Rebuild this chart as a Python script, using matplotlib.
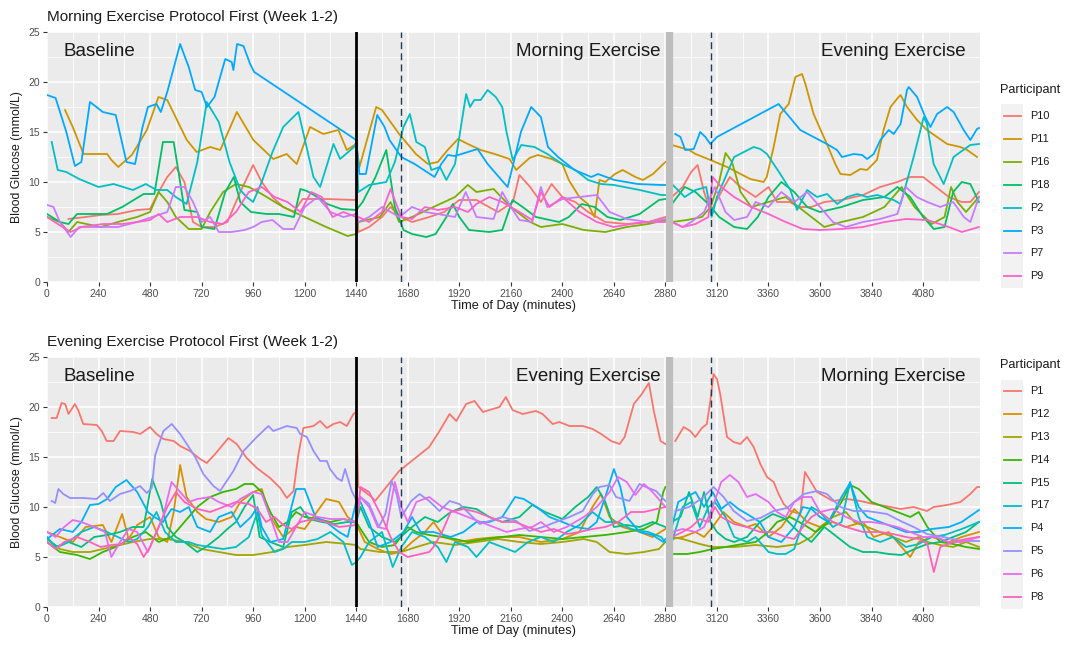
import numpy as np
import matplotlib
matplotlib.use("Agg")
import matplotlib.pyplot as plt
from matplotlib.lines import Line2D

plt.rcParams['font.family'] = ['Liberation Sans', 'DejaVu Sans']

# ---------------- data: (minute, glucose) ----------------
# Panel 1: Morning Exercise Protocol First
P10 = [(100,6.3),(180,6.5),(250,6.7),(330,6.8),(420,7.2),(480,7.3),(520,9),(560,10.5),(600,11.5),(640,10),(680,6),(720,5.5),(780,5.5),(840,6),(900,9),(960,11.7),(1000,10),(1050,8.5),(1100,7.5),(1150,7),(1190,8.3),(1300,8.3),(1440,8.2),
       (1450,5),(1500,5.5),(1560,6.5),(1600,7.5),(1650,6.5),(1700,6),(1780,6.5),(1850,7),(1920,8.2),(2000,8.2),(2100,7),(2170,8),(2200,10.7),(2250,9.5),(2300,8),(2350,9.8),(2400,8.5),(2460,8),(2520,7),(2600,6),(2700,5.8),(2800,6),(2880,6.5),
       (2910,8.5),(2960,9.5),(3000,11),(3030,11.7),(3060,9),(3090,7),(3140,9),(3180,10.5),(3230,9.5),(3300,8.5),(3360,9.5),(3400,8),(3460,8),(3500,7.5),(3560,7.5),(3620,8),(3700,8.2),(3800,8.7),(3880,9.5),(3960,10),(4020,10.5),(4080,10.5),(4140,9.5),(4200,8.5),(4260,8),(4300,8),(4340,9)]
P11 = [(84,17.2),(120,15.5),(170,12.8),(280,12.8),(300,12.2),(332,11.5),(395,12.7),(465,15.2),(519,18.5),(560,18.2),(651,14.2),(697,13),(760,13.5),(807,13.2),(884,17),(961,14.2),(1054,12.3),(1116,12.8),(1163,11.8),(1225,15.5),(1287,14.8),(1357,15.2),(1396,13.2),(1440,13.8),
       (1455,11.5),(1533,17.5),(1560,17.2),(1640,14.8),(1718,12.8),(1774,11.8),(1820,12),(1866,13.2),(1914,14.3),(1960,13.8),(2020,13.2),(2085,12.8),(2154,12.3),(2185,11.2),(2247,12.4),(2286,12.7),(2350,12.3),(2400,11.8),(2430,10.2),(2479,8.5),(2519,7.8),(2550,6.5),(2573,10.2),(2600,10),(2645,10.8),(2681,11.2),(2740,10.5),(2775,10.2),(2822,10.8),(2870,11.8),(2880,12),
       (2910,13.7),(2990,13.2),(3020,12.8),(3090,12.2),(3167,11.5),(3230,10.8),(3275,10.3),(3337,10),(3352,10.5),(3384,13.5),(3415,16.8),(3454,17.8),(3485,20.5),(3516,20.8),(3532,19.8),(3570,16.8),(3632,13.8),(3671,11.8),(3695,10.8),(3741,10.7),(3788,11.3),(3819,11.2),(3865,12.2),(3896,15.2),(3928,17.5),(3966,18.5),(3975,18.7),(4005,17.5),(4052,16.2),(4098,15.2),(4145,14.5),(4192,13.8),(4254,13.5),(4285,13.2),(4331,12.5)]
P16 = [(0,6.5),(60,6),(100,5),(140,6),(250,5.5),(330,6),(420,6.5),(480,7),(520,9),(560,8),(600,6.5),(660,5.3),(720,5.3),(760,7),(820,9),(880,9.8),(940,9.5),(1000,8.8),(1100,7.5),(1200,6.5),(1300,5.5),(1400,4.6),(1440,4.8),
       (1450,6),(1550,6.5),(1600,8),(1640,6),(1700,6.5),(1800,7.5),(1900,8.5),(1960,9.7),(2000,9),(2080,9.3),(2160,7.5),(2250,6),(2300,5.5),(2400,5.8),(2500,5.2),(2600,5),(2700,5.5),(2800,5.8),(2880,6.2),
       (2910,6),(2980,6.2),(3050,6.5),(3090,7.5),(3130,10),(3160,12.9),(3190,12),(3230,9),(3280,7.5),(3360,8),(3440,8.5),(3500,7.5),(3560,6.5),(3620,5.5),(3700,6),(3800,6.5),(3900,7.5),(3980,9.5),(4040,7.5),(4120,5.8),(4180,6.5),(4210,9.5),(4240,8),(4280,7),(4340,8.5)]
P18 = [(0,6.8),(60,6),(100,5.8),(140,6.8),(280,6.8),(350,7.5),(450,8.8),(500,8.8),(540,14),(590,14),(620,10),(640,7.2),(700,7),(720,5.5),(780,5.3),(830,9),(870,10.5),(900,8),(950,7),(1023,6.8),(1080,6.8),(1150,6.5),(1180,9.3),(1210,9.1),(1260,8.5),(1305,7.8),(1370,7.3),(1440,7.2),
       (1470,8),(1530,10.5),(1580,13.2),(1620,7.5),(1660,5.2),(1700,4.8),(1766,4.5),(1810,4.8),(1860,6.5),(1890,7.8),(1920,6.5),(1965,5.2),(2060,5),(2120,5.2),(2168,8.2),(2215,7.5),(2277,6.5),(2340,6.2),(2385,6),(2430,6.5),(2490,7.8),(2550,7.5),(2610,6.5),(2670,6.2),(2760,6.8),(2850,8.2),(2880,8.3),
       (2910,7.8),(2970,9.5),(3020,9),(3080,7.8),(3130,6.5),(3200,5.5),(3260,5.3),(3310,6.5),(3360,8.5),(3420,10),(3480,9),(3540,7.5),(3600,7),(3700,7.5),(3800,8.2),(3900,8.5),(3960,9.5),(4020,8.5),(4080,6.5),(4130,5.3),(4180,5.5),(4220,9),(4260,10),(4300,9.8),(4340,8)]
P2 = [(22,14),(50,11.2),(90,11),(150,10.3),(240,9.5),(310,9.8),(400,9.2),(460,9.8),(510,9.2),(560,9.2),(600,8.5),(650,7.8),(700,12),(744,18),(800,16),(850,12),(900,9.2),(930,8.5),(960,8),(1000,10),(1050,13),(1100,15.5),(1171,17),(1241,10.5),(1272,9.5),(1334,13.8),(1365,12.3),(1430,13.5),(1440,14),
      (1450,9),(1500,9.7),(1580,10),(1620,12),(1660,15.5),(1690,16.8),(1720,14),(1760,13.5),(1790,11.2),(1830,11.5),(1860,10.2),(1900,11.8),(1952,18.8),(1970,17.5),(1990,18.2),(2020,18.2),(2052,19.2),(2090,18.5),(2120,17.5),(2140,15),(2169,12.2),(2209,13.7),(2270,13.5),(2330,12.8),(2400,11.8),(2460,11.2),(2520,10.2),(2580,9.8),(2640,9.7),(2760,9.2),(2860,8.7),(2880,8.7),
      (2910,9.8),(2970,8.5),(3020,9.2),(3070,9.5),(3095,6.5),(3120,8.5),(3200,12.5),(3291,13.5),(3322,13.3),(3353,12.8),(3415,10.8),(3462,9.2),(3493,7.2),(3540,9.2),(3586,8.5),(3633,8.8),(3680,7.8),(3726,8.5),(3773,8.8),(3820,8.5),(3866,8.7),(3943,8.2),(3975,7.8),(4036,12.5),(4083,16.5),(4098,15.8),(4129,11.8),(4176,9.8),(4222,12.5),(4254,13),(4300,13.7),(4340,13.8)]
P3 = [(0,18.7),(40,18.4),(90,15),(130,11.6),(160,12),(200,18),(260,17),(320,16.7),(370,12),(410,11.8),(445,15.5),(470,17.5),(510,17.8),(530,17),(560,19),(620,23.8),(660,21.5),(690,19.2),(720,19),(745,17.5),(780,18.5),(830,22.3),(860,22),(868,21.2),(885,23.8),(915,23.6),(946,21.8),(965,21),(1440,14.2),
      (1455,10.8),(1485,10.8),(1538,16.7),(1572,15.5),(1595,14.2),(1650,12.5),(1712,11.8),(1805,10.5),(1836,11.8),(1867,12.7),(1898,12.6),(1930,12.8),(2005,13.3),(2052,11.8),(2145,9.5),(2176,12.2),(2207,15),(2255,17.5),(2300,16.5),(2333,13.5),(2380,12.5),(2457,11.2),(2535,10.5),(2566,10.8),(2643,10.2),(2751,9.8),(2860,9.7),(2880,9.7),
      (2926,14.8),(2950,14.5),(2972,13.2),(3012,13.3),(3042,15),(3066,14.5),(3089,13.8),(3120,14.5),(3407,17.8),(3508,15.2),(3570,14.5),(3632,13.8),(3679,13.2),(3702,12.5),(3757,12.8),(3796,12.7),(3819,12.3),(3850,12.8),(3881,14.2),(3920,15.2),(3943,14.8),(3975,15.8),(4005,19.2),(4013,19.5),(4052,18.5),(4090,16.5),(4114,15.5),(4145,16.8),(4192,17.5),(4222,17),(4269,15.2),(4300,14.2),(4331,15.3),(4340,15.4)]
P7 = [(0,7.7),(30,7.5),(60,6),(110,4.5),(150,5.5),(250,5.5),(330,5.5),(420,6),(490,6.5),(560,7),(600,9.5),(640,9.5),(680,8),(720,6),(760,6.5),(800,5),(860,5),(920,5.2),(960,5.5),(1000,6),(1050,6.2),(1100,5.3),(1150,5.3),(1200,7.5),(1260,8.5),(1320,7),(1380,6.5),(1440,6.8),
      (1450,6),(1500,6.5),(1560,7.5),(1640,6.5),(1700,7.5),(1760,7),(1820,6.8),(1900,6.5),(1950,9),(2000,6.5),(2080,6.3),(2120,9),(2160,7.5),(2200,6.2),(2260,6),(2300,9.5),(2330,7.5),(2400,8.3),(2480,8.5),(2560,8.7),(2620,7),(2700,6.3),(2800,6),(2880,6.3),
      (2910,6),(2960,5.5),(3000,6),(3060,7),(3090,8.5),(3110,9.5),(3160,7),(3200,6.2),(3260,6.5),(3300,8),(3360,7.5),(3420,9),(3480,8),(3540,9),(3600,7.5),(3660,6),(3720,5.5),(3800,6),(3880,6.3),(3960,6.8),(4000,9.5),(4050,8.5),(4100,8),(4160,7.5),(4220,8),(4270,6.5),(4300,6),(4340,8.5)]
P9 = [(0,6.5),(50,5.8),(110,5),(160,5.5),(260,5.8),(350,5.8),(420,6),(480,6.2),(520,6.8),(560,6),(620,6.5),(700,6.5),(760,6),(820,5.8),(880,7),(940,9),(1000,9.5),(1060,8.5),(1120,8),(1180,7),(1230,9),(1280,8.5),(1330,6.5),(1380,7),(1440,6.5),
      (1450,6.5),(1500,6),(1560,7),(1600,9.3),(1650,6.5),(1700,6.3),(1760,7.5),(1820,7.2),(1900,7.5),(1960,7),(2000,7.8),(2060,8.5),(2120,8),(2200,7),(2260,6.2),(2300,9),(2340,7.5),(2400,8.5),(2480,7),(2560,6),(2640,5.5),(2720,5.8),(2800,6),(2880,6),
      (2910,6),(2960,5.5),(3020,5.8),(3080,6.5),(3100,10.5),(3140,9.5),(3200,8.5),(3280,7.5),(3360,6.8),(3440,6),(3520,5.3),(3600,5.2),(3700,5.3),(3800,5.5),(3900,6),(4000,6.3),(4100,6.2),(4200,5.5),(4260,5),(4340,5.5)]

# Panel 2: Evening Exercise Protocol First
P1 = [(22,18.9),(45,18.9),(68,20.4),(85,20.3),(100,19.3),(130,20.3),(145,19.7),(169,18.3),(232,18.2),(255,17.6),(278,16.6),(310,16.6),(340,17.6),(402,17.5),(434,17.3),(480,18),(510,17.3),(542,16.8),(590,16.6),(620,16.1),(666,15.6),(713,14.8),(744,14.4),(783,15.3),(845,16.9),(883,16.3),(930,14.9),(977,13.9),(1039,12.9),(1086,11.9),(1117,10.9),(1148,11.6),(1171,15.3),(1194,17.9),(1241,18.1),(1272,18.6),(1303,17.9),(1334,18.3),(1365,18.5),(1396,18.1),(1427,19.3),(1440,19.5),
      (1450,12),(1512,11),(1528,10.6),(1640,13.6),(1780,16),(1828,17.6),(1875,19.3),(1906,18.6),(1952,20.3),(1991,20.6),(2030,19.5),(2076,19.8),(2107,20),(2137,21),(2168,19.7),(2215,19.3),(2277,19.6),(2308,19.3),(2355,18.3),(2386,18.5),(2433,18.1),(2495,18.1),(2541,17.8),(2581,17.3),(2627,16.6),(2667,16.3),(2690,17),(2733,20.3),(2770,21.3),(2803,22.4),(2826,19.6),(2857,16.6),(2880,16.3),
      (2926,16.6),(2965,18),(2996,17.6),(3019,17),(3050,17.9),(3073,18.3),(3089,20.6),(3104,23.3),(3120,22.8),(3135,21.3),(3167,17),(3198,16.5),(3229,16.3),(3260,17),(3291,16),(3322,14.3),(3353,13),(3384,12.5),(3407,11.3),(3431,10.3),(3462,9.6),(3508,9.3),(3530,13.5),(3586,11.5),(3660,10.6),(3725,10.8),(3788,10.6),(3850,10.3),(3928,10),(3975,9.8),(4036,10),(4098,9.6),(4129,10),(4192,10.2),(4254,10.5),(4300,11.3),(4331,12),(4345,12)]
P12 = [(0,7.5),(60,7),(120,6.5),(180,8),(260,8.2),(300,6.5),(350,9.3),(380,6.8),(420,8.2),(480,9),(520,7),(560,6.5),(590,9.5),(620,14.2),(650,11),(700,9.5),(740,8.8),(800,8.5),(860,9),(900,10.5),(960,11.5),(1000,11.8),(1040,9),(1100,7),(1160,8),(1200,7.8),(1240,9),(1300,10.8),(1360,10.5),(1400,9),(1440,8.3),
       (1480,6.5),(1540,5.8),(1600,5.3),(1650,5.5),(1700,6.5),(1760,7.5),(1800,8.5),(1850,7),(1920,6.5),(2000,6.8),(2100,7),(2200,7),(2300,6.5),(2400,6.8),(2480,7.5),(2540,10),(2580,11.3),(2620,9),(2680,8),(2760,7.5),(2820,7),(2880,7.8),
       (2910,6.8),(2960,7),(3020,7.5),(3060,7),(3100,8),(3150,9.5),(3200,8.5),(3260,8),(3300,8.3),(3360,7),(3420,8),(3480,9.8),(3540,8.5),(3600,8),(3660,8.5),(3720,8),(3800,8.5),(3850,7),(3920,7.5),(3980,6),(4020,5),(4060,6.5),(4120,7),(4200,6.5),(4260,7),(4340,7.5)]
P13 = [(0,6.8),(60,5.8),(120,5.5),(200,5.5),(300,6),(400,6.5),(480,6.8),(560,6.8),(640,6.5),(720,5.8),(800,5.5),(880,5.2),(960,5.2),(1050,5.5),(1120,6),(1200,6.2),(1300,6.5),(1400,6.3),(1440,6.2),
       (1460,5.8),(1550,5.5),(1650,5.5),(1720,6),(1800,6.5),(1900,6.2),(2000,6.5),(2100,6.8),(2200,6.5),(2300,6.3),(2400,6.5),(2500,6.8),(2560,6.5),(2620,5.5),(2700,5.3),(2780,5.5),(2850,5.8),(2880,6.5),
       (2910,7),(2960,6.8),(3040,6.3),(3100,6),(3200,6),(3300,6.2),(3400,6),(3500,6.3),(3560,7),(3600,8),(3660,9),(3720,9.5),(3760,8.5),(3820,8),(3880,7.5),(3940,7),(4000,6.5),(4060,7),(4100,6.5),(4160,6.2),(4220,6),(4280,6.5),(4340,6)]
P14 = [(0,6.5),(60,5.5),(140,5.2),(200,4.8),(260,5.5),(320,6),(400,7),(460,7.5),(520,6.5),(580,7),(640,8.5),(700,10),(760,11),(820,11.5),(880,11.8),(920,12.3),(960,12.3),(1000,11.5),(1040,9.5),(1080,8),(1120,8.5),(1160,9.5),(1200,9),(1260,8.8),(1320,8.5),(1380,8.8),(1440,8.5),
       (1460,7.8),(1500,6.5),(1560,6),(1620,6.2),(1680,8),(1720,7.5),(1780,7.2),(1840,7),(1900,6.8),(1960,6.5),(2040,6.8),(2120,7),(2200,7.2),(2300,7),(2400,6.8),(2500,7),(2600,7.2),(2700,7.5),(2780,7.8),(2840,8.5),(2870,11.5),(2880,12),
       (2920,5.3),(2980,5.3),(3040,5.5),(3100,5.8),(3160,6),(3240,6.3),(3300,6.5),(3360,7.5),(3400,8.5),(3460,9),(3520,8.3),(3580,7.5),(3640,8.5),(3700,10.5),(3740,12.2),(3780,11.8),(3840,10.5),(3900,10),(3960,9.5),(4020,9),(4060,9.5),(4100,8),(4160,6.5),(4220,6.3),(4280,6),(4340,5.8)]
P15 = [(0,6.8),(50,6),(100,6.5),(160,6),(220,7),(280,7.2),(340,7.5),(400,8),(450,8),(490,12.8),(530,10.5),(560,8),(600,7),(640,6.5),(700,5.5),(740,6),(800,7),(840,7.8),(880,8.5),(920,10),(960,11.2),(990,7),(1040,6.5),(1100,6),(1140,9.5),(1180,10),(1220,8.8),(1280,8.5),(1340,8.3),(1400,8.5),(1440,8.5),
       (1460,10),(1500,8),(1560,7),(1620,6.5),(1700,8),(1760,9),(1820,8.5),(1880,9.5),(1940,10),(2000,9.8),(2060,9),(2120,8.5),(2200,9),(2260,10.2),(2320,9.5),(2400,8.8),(2460,10),(2520,11),(2560,12),(2600,10.5),(2640,8),(2700,8.2),(2760,8),(2820,8.5),(2880,8),
       (2910,8.5),(2950,9),(2990,11.5),(3030,9),(3060,11.5),(3090,8.5),(3120,7.5),(3160,6.8),(3200,6.5),(3260,7),(3320,8.5),(3380,9.3),(3440,8.8),(3500,7.5),(3560,6.5),(3620,8),(3680,7),(3740,6),(3800,5.5),(3860,5.5),(3920,5.3),(3980,5.2),(4040,5.8),(4100,6.3),(4160,6.5),(4220,7),(4280,7.5),(4340,8.5)]
P17 = [(0,7),(40,6),(100,6.5),(160,7.5),(220,8),(280,7.5),(330,7),(380,6.5),(420,6.8),(470,8),(510,9.5),(550,7.5),(600,6.5),(660,6.5),(700,6.2),(760,6),(820,5.8),(880,6),(940,7),(980,9.5),(1000,7.2),(1060,5.5),(1100,5.8),(1140,6.5),(1200,6.5),(1260,6.8),(1320,7.5),(1380,6.5),(1420,4.2),(1440,4.5),
       (1460,5),(1500,6.5),(1560,7.5),(1610,4),(1650,6),(1700,7.5),(1760,7),(1820,6),(1860,4.5),(1900,6.5),(1960,6),(2000,5),(2060,6.5),(2120,6),(2180,5.5),(2240,6.5),(2300,7),(2360,6.5),(2420,7.5),(2480,8.2),(2540,9.5),(2600,8.5),(2660,8.5),(2720,7.8),(2800,7.5),(2860,7),(2880,6.5),
       (2910,6.5),(2960,10),(3000,10.5),(3040,8),(3080,10),(3110,10.5),(3160,9),(3200,7),(3260,6.5),(3300,7),(3360,5.5),(3400,5.3),(3440,5.3),(3480,5.8),(3520,8.5),(3560,10),(3600,9.5),(3660,8),(3700,8.5),(3740,12.5),(3780,9),(3820,7),(3880,6.5),(3940,7),(4000,6),(4060,6.3),(4120,7),(4180,7.2),(4260,7.8),(4340,8.5)]
P4 = [(0,6.8),(60,7.8),(120,7.5),(160,8.5),(200,10.2),(240,10.3),(280,10.8),(320,12),(370,12.7),(420,11.5),(470,9.5),(500,9),(540,8.5),(580,9.8),(620,9.5),(660,10),(700,8),(760,7.5),(800,9),(860,9.5),(900,8),(950,9),(980,10),(1000,8),(1040,6.5),(1100,6.8),(1160,11.8),(1200,11.8),(1250,9),(1300,8.5),(1360,7.5),(1400,7),(1440,10.5),
      (1460,10.5),(1500,8.5),(1540,6),(1600,6.5),(1660,7.5),(1700,9),(1740,7.5),(1800,7.5),(1880,7),(1940,7.5),(2000,8.5),(2060,8.5),(2120,9),(2180,11),(2220,10.8),(2280,10),(2340,9),(2400,8.5),(2460,8),(2520,7.8),(2560,8.5),(2600,11),(2640,13.8),(2670,12),(2700,9),(2760,7.5),(2820,7.2),(2870,6.5),(2880,6.8),
      (2910,8),(2940,10.5),(2980,11),(3020,11.5),(3060,10),(3100,11.5),(3140,9.8),(3180,10.5),(3220,9.8),(3260,9.3),(3320,8.5),(3360,7),(3420,6.5),(3480,8),(3520,10),(3560,9.8),(3600,9),(3640,8.5),(3700,11),(3740,12.4),(3780,10),(3820,9),(3880,8.5),(3940,8),(4000,7.5),(4060,7.5),(4120,7.8),(4200,8),(4260,8.5),(4340,9.7)]
P5 = [(22,10.6),(38,10.4),(53,11.8),(76,11.3),(107,10.9),(169,10.9),(231,10.8),(262,11.4),(293,10.6),(340,11.3),(387,11.6),(433,12.1),(465,11.4),(488,11.9),(504,15.2),(542,17.6),(581,18.3),(620,17.3),(651,16.3),(690,15),(728,13.3),(775,12.1),(806,11.6),(837,12.6),(868,13.6),(915,15.6),(946,16.3),(977,17),(1031,18.1),(1054,17.6),(1117,18.1),(1163,17.9),(1179,17.3),(1210,17),(1241,15.6),(1272,14.6),(1303,14.6),(1318,13.8),(1350,12.9),(1373,12.6),(1388,13.8),(1419,11.6),(1443,10.6),
      (1460,11),(1500,10.3),(1545,8),(1576,9.3),(1605,12.6),(1628,11.3),(1650,9),(1696,10.6),(1735,11.3),(1780,10.6),(1828,9.6),(1875,10.6),(1920,10.3),(1968,9.3),(2015,8.3),(2060,8.6),(2123,9),(2185,8.6),(2247,7.6),(2310,8),(2370,8.5),(2433,9),(2495,9.6),(2542,11.3),(2573,12),(2620,12.2),(2650,11),(2712,10.6),(2759,12.3),(2790,12),(2836,11.6),(2880,10.6),
      (2926,9.6),(2990,10),(3058,11),(3104,12),(3151,11),(3198,9.6),(3260,8.6),(3322,8.9),(3384,9.6),(3446,9.9),(3524,11.3),(3586,11.6),(3632,11.3),(3695,10),(3757,9.6),(3819,9.6),(3912,9.3),(3975,8.6),(4036,8),(4098,7.3),(4176,7),(4254,6.6),(4345,6.6)]
P6 = [(0,7.5),(40,7),(80,8),(120,8.7),(160,8.5),(220,8),(270,7.5),(300,5),(340,6.5),(380,7.8),(420,7.5),(470,5.5),(500,7),(540,9),(580,12.5),(620,11.5),(660,10.5),(700,10.8),(760,11),(800,10.5),(860,10),(900,10.8),(960,11.5),(1000,11.3),(1040,9),(1080,6.5),(1120,6.5),(1160,8),(1200,9.5),(1260,9),(1320,8.8),(1380,8.8),(1440,8.5),
      (1460,11),(1500,10),(1540,8),(1580,7.8),(1620,12.5),(1650,10),(1680,8.5),(1720,10.5),(1780,11),(1840,10),(1900,9.5),(1960,9),(2020,8.5),(2080,8),(2140,7.5),(2200,7.8),(2260,8),(2300,8.5),(2360,7.5),(2420,8),(2500,9),(2560,10),(2620,11.5),(2660,13),(2700,12.5),(2740,11.2),(2780,12.3),(2820,11.5),(2860,10.5),(2880,10),
      (2910,7.5),(2960,7.8),(3020,7.5),(3060,8),(3100,10),(3140,12.5),(3180,13.2),(3220,12.5),(3260,11),(3300,11.3),(3360,10.5),(3400,9.5),(3440,9),(3480,10.5),(3520,11),(3560,11),(3600,9.5),(3660,9.8),(3720,9),(3780,8.5),(3840,8.5),(3900,8.3),(3960,8),(4020,7.5),(4080,7),(4140,7),(4200,6.5),(4260,6.5),(4340,7)]
P8 = [(0,6.5),(40,5.8),(80,6.5),(140,7),(200,6.5),(250,6),(300,6.2),(350,6.3),(380,7),(420,6.3),(450,5),(480,6),(520,8),(560,10),(600,11.5),(640,10.5),(700,9.8),(760,9.5),(820,10),(880,10.5),(940,10.3),(980,9.8),(1020,8.5),(1060,9),(1100,8.2),(1140,7.8),(1180,8.5),(1240,8.8),(1300,8.5),(1360,8),(1440,8.2),
      (1460,12),(1500,11.5),(1560,9),(1600,7),(1640,5.5),(1680,5),(1720,5.2),(1780,5.5),(1800,6),(1840,7.5),(1880,9.5),(1940,9.8),(2000,9.5),(2060,9),(2120,8.5),(2180,8.5),(2240,8),(2300,7.5),(2360,7.8),(2420,7.3),(2480,7.5),(2540,7.8),(2600,8),(2660,8.5),(2720,9.5),(2780,9.5),(2840,9.8),(2880,10),
      (2910,7),(2960,7.5),(3000,8),(3040,8.8),(3080,8.5),(3110,10),(3140,9),(3200,8.3),(3260,8),(3320,7.5),(3380,7.5),(3440,7),(3480,6.8),(3520,8),(3560,9),(3600,9.5),(3660,8.5),(3720,8),(3800,7.5),(3880,7.5),(3940,7.3),(4000,7),(4060,6.8),(4100,6.3),(4130,3.5),(4160,6),(4220,6.5),(4280,6.8),(4340,7)]

top_names = ["P10", "P11", "P16", "P18", "P2", "P3", "P7", "P9"]
top_data = [P10, P11, P16, P18, P2, P3, P7, P9]
top_colors = ["#F8766D", "#CD9600", "#7CAE00", "#00BE67", "#00BFC4", "#00A9FF", "#C77CFF", "#FF61CC"]

bot_names = ["P1", "P12", "P13", "P14", "P15", "P17", "P4", "P5", "P6", "P8"]
bot_data = [P1, P12, P13, P14, P15, P17, P4, P5, P6, P8]
bot_colors = ["#F8766D", "#D89000", "#A3A500", "#39B600", "#00BF7D", "#00BFC4", "#00B0F6", "#9590FF", "#E76BF3", "#FF62BC"]

titles = ["Morning Exercise Protocol First (Week 1-2)", "Evening Exercise Protocol First (Week 1-2)"]
phase_labels = [("Baseline", "Morning Exercise", "Evening Exercise"),
                ("Baseline", "Evening Exercise", "Morning Exercise")]
x_ticks = [0, 240, 480, 720, 960, 1200, 1440, 1680, 1920, 2160, 2400, 2640, 2880, 3120, 3360, 3600, 3840, 4080]
y_ticks = [0, 5, 10, 15, 20, 25]
XMAX = 4345
BREAK = 2895

# ---------------- figure ----------------
W, H = 1073, 646
fig = plt.figure(figsize=(W / 100, H / 100), dpi=100)
fig.patch.set_facecolor("white")

def fx(px):
    return px / W

def fy(py):
    return 1 - py / H

panels = [
    dict(top=32, bottom=282, names=top_names, data=top_data, colors=top_colors,
         title=titles[0], phases=phase_labels[0], leg_top=90),
    dict(top=357, bottom=607, names=bot_names, data=bot_data, colors=bot_colors,
         title=titles[1], phases=phase_labels[1], leg_top=365),
]

left_px, right_px = 47, 980
for p in panels:
    ax = fig.add_axes([fx(left_px), fy(p["bottom"]), fx(right_px) - fx(left_px), (p["bottom"] - p["top"]) / H])
    ax.set_facecolor("#EBEBEB")
    ax.set_xlim(0, XMAX)
    ax.set_ylim(0, 25)
    ax.set_xticks(x_ticks)
    ax.set_xticks([t + 120 for t in x_ticks], minor=True)
    ax.set_yticks(y_ticks)
    ax.set_yticks([2.5, 7.5, 12.5, 17.5, 22.5], minor=True)
    ax.grid(which="major", color="white", linewidth=1.1)
    ax.grid(which="minor", color="white", linewidth=0.55)
    ax.set_axisbelow(True)
    for s in ax.spines.values():
        s.set_visible(False)
    ax.tick_params(axis="both", which="major", length=3, color="#333333", labelsize=7.5,
                   labelcolor="#4D4D4D", pad=2)
    ax.tick_params(axis="both", which="minor", length=0)
    ax.set_xticklabels([str(t) for t in x_ticks])
    ax.set_yticklabels([str(v) for v in y_ticks])

    for name, series, col in zip(p["names"], p["data"], p["colors"]):
        t = [a for a, b in series]
        v = [b for a, b in series]
        tt, vv = [], []
        for i in range(len(t)):
            if i > 0 and t[i - 1] < BREAK < t[i]:
                tt.append(np.nan)
                vv.append(np.nan)
            tt.append(t[i])
            vv.append(v[i])
        ax.plot(tt, vv, color=col, linewidth=1.3, solid_joinstyle="round", zorder=2)

    ax.axvline(1440, color="black", linewidth=2.0, zorder=5)
    ax.axvline(BREAK, color="#BDBDBD", linewidth=5.2, zorder=5)
    ax.axvline(1650, color="#1F3B5A", linewidth=1.0, linestyle=(0, (5, 3)), zorder=5)
    ax.axvline(3090, color="#1F3B5A", linewidth=1.0, linestyle=(0, (5, 3)), zorder=5)

    ax.text(75, 23, p["phases"][0], fontsize=13.5, color="#1A1A1A", ha="left", va="center", zorder=6)
    ax.text(2857, 23, p["phases"][1], fontsize=13.5, color="#1A1A1A", ha="right", va="center", zorder=6)
    ax.text(4278, 23, p["phases"][2], fontsize=13.5, color="#1A1A1A", ha="right", va="center", zorder=6)

    ax.set_ylabel("Blood Glucose (mmol/L)", fontsize=8.8, color="#1A1A1A", labelpad=4)
    ax.set_xlabel("Time of Day (minutes)", fontsize=9.2, color="#1A1A1A", labelpad=1)
    fig.text(fx(47), fy(p["top"] - 15), p["title"], fontsize=11, color="#1A1A1A", ha="left", va="center")

    # legend
    lt = p["leg_top"]
    fig.text(fx(1000), fy(lt), "Participant", fontsize=9.2, color="#1A1A1A", ha="left", va="center")
    for i, (name, col) in enumerate(zip(p["names"], p["colors"])):
        yc = lt + 26 + i * 22.9
        fig.patches.append(plt.Rectangle((fx(1001), fy(yc + 11.4)), fx(22), 22.9 / H,
                                         transform=fig.transFigure, facecolor="#F2F2F2",
                                         edgecolor="none"))
        fig.add_artist(Line2D([fx(1004), fx(1021)], [fy(yc), fy(yc)], color=col, linewidth=1.3))
        fig.text(fx(1030), fy(yc), name, fontsize=7.8, color="#1A1A1A", ha="left", va="center")

fig.savefig("out.png", dpi=100)
